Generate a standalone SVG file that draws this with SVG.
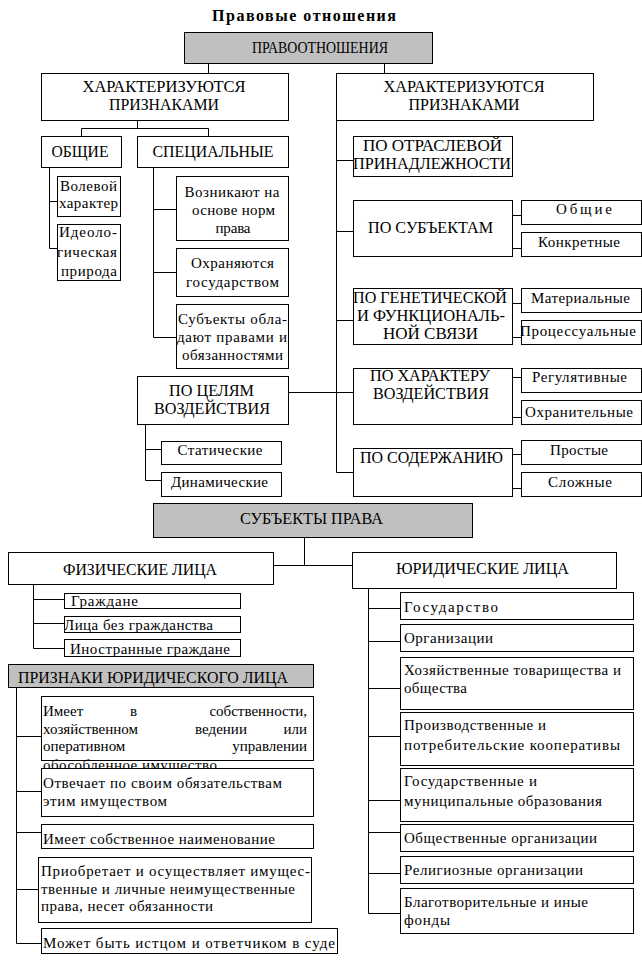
<svg xmlns="http://www.w3.org/2000/svg" width="642" height="969" viewBox="0 0 642 969" font-family="'Liberation Serif', 'Times New Roman', serif">
<style>
.b{fill:#fff;stroke:#000;stroke-width:1}
.g{fill:#c0c0c0;stroke:#000;stroke-width:1}
text{font-family:"Liberation Serif","Times New Roman",serif;font-size:15px;fill:#000}
.h{font-size:17px}
.c{text-anchor:middle}
.e{text-anchor:end}
.ttl{font-size:16px;font-weight:bold}
.ln{stroke:#000;stroke-width:1;fill:none}
</style>
<rect width="642" height="969" fill="#fff"/>
<text class="ttl" x="212" y="21" textLength="184" lengthAdjust="spacing">Правовые отношения</text>
<g id="connectors">
<path class="ln" d="M208.5 63V73M384.5 63V73
M137.5 120V128.5M81.5 128.5H208.5M81.5 128.5V136M208.5 128.5V136
M49.5 167V248.5M49.5 201.5H57M49.5 248.5H57
M153.5 167V337.5M153.5 209.5H176M153.5 272.5H176M153.5 337.5H176
M288 392.5H353
M145.5 424V480.5M145.5 449.5H161M145.5 480.5H161
M336.5 120V472.5M336.5 160.5H353M336.5 231.5H353M336.5 320.5H353M336.5 472.5H353
M512 215.5H521M512 248.5H521M512 303.5H521M512 337.5H521M512 377.5H521M512 417.5H521M512 454.5H521M512 488.5H521
M304.5 537V565.5M273 565.5H352
M33.5 584V648.5M33.5 599.5H64M33.5 623.5H64M33.5 648.5H64
M16.5 687V943.5M16.5 736.5H41M16.5 791.5H41M16.5 832.5H41M16.5 889.5H38M16.5 943.5H41
M368.5 588V913.5M368.5 608.5H400M368.5 641.5H400M368.5 688.5H400M368.5 736.5H400M368.5 800.5H400M368.5 832.5H400M368.5 873.5H400M368.5 913.5H400"/>
</g>
<g id="pravootnosheniya"><rect class="g" x="184.5" y="32.5" width="248" height="31"/><text class="h c" x="320" y="53" textLength="136" lengthAdjust="spacingAndGlyphs">ПРАВООТНОШЕНИЯ</text></g>
<g id="harakt-left"><rect class="b" x="41.5" y="73.5" width="247" height="47"/><text class="h c" x="164" y="92" textLength="163" lengthAdjust="spacingAndGlyphs">ХАРАКТЕРИЗУЮТСЯ</text><text class="h c" x="164" y="110" textLength="110" lengthAdjust="spacingAndGlyphs">ПРИЗНАКАМИ</text></g>
<g id="harakt-right"><rect class="b" x="336.5" y="73.5" width="257" height="47"/><text class="h c" x="464" y="92" textLength="161" lengthAdjust="spacingAndGlyphs">ХАРАКТЕРИЗУЮТСЯ</text><text class="h c" x="464" y="110" textLength="111" lengthAdjust="spacingAndGlyphs">ПРИЗНАКАМИ</text></g>
<g id="obshchie"><rect class="b" x="41.5" y="136.5" width="80" height="31"/><text class="h c" x="80" y="157" textLength="57" lengthAdjust="spacingAndGlyphs">ОБЩИЕ</text></g>
<g id="specialnye"><rect class="b" x="137.5" y="136.5" width="151" height="31"/><text class="h c" x="213" y="157" textLength="121" lengthAdjust="spacingAndGlyphs">СПЕЦИАЛЬНЫЕ</text></g>
<g id="volevoy"><rect class="b" x="57.5" y="176.5" width="63" height="40"/><text class="c" x="88.5" y="191" textLength="57" lengthAdjust="spacing">Волевой</text><text class="c" x="88.5" y="208" textLength="59" lengthAdjust="spacing">характер</text></g>
<g id="ideolog"><rect class="b" x="57.5" y="224.5" width="63" height="56"/><text class="c" x="88" y="237" textLength="58" lengthAdjust="spacing">Идеоло-</text><text class="c" x="87" y="257" textLength="60" lengthAdjust="spacing">гическая</text><text class="c" x="89" y="276" textLength="56" lengthAdjust="spacing">природа</text></g>
<g id="voznikayut"><rect class="b" x="176.5" y="176.5" width="112" height="64"/><text class="c" x="232" y="197" textLength="95" lengthAdjust="spacing">Возникают на</text><text class="c" x="233.5" y="215" textLength="83" lengthAdjust="spacing">основе норм</text><text class="c" x="233" y="233" textLength="35" lengthAdjust="spacing">права</text></g>
<g id="ohranyayutsya"><rect class="b" x="176.5" y="248.5" width="112" height="48"/><text class="c" x="232.5" y="268" textLength="83" lengthAdjust="spacing">Охраняются</text><text class="c" x="232.5" y="287" textLength="93" lengthAdjust="spacing">государством</text></g>
<g id="subekty-oblad"><rect class="b" x="176.5" y="304.5" width="112" height="64"/><text class="c" x="232.5" y="324" textLength="109" lengthAdjust="spacing">Субъекты обла-</text><text class="c" x="232" y="342" textLength="110" lengthAdjust="spacing">дают правами и</text><text class="c" x="232.5" y="360" textLength="101" lengthAdjust="spacing">обязанностями</text></g>
<g id="po-celyam"><rect class="b" x="137.5" y="376.5" width="151" height="48"/><text class="h c" x="211.5" y="396" textLength="85" lengthAdjust="spacingAndGlyphs">ПО ЦЕЛЯМ</text><text class="h c" x="212" y="414" textLength="116" lengthAdjust="spacingAndGlyphs">ВОЗДЕЙСТВИЯ</text></g>
<g id="staticheskie"><rect class="b" x="161.5" y="441.5" width="120" height="23"/><text class="c" x="220" y="455" textLength="85" lengthAdjust="spacing">Статические</text></g>
<g id="dinamicheskie"><rect class="b" x="161.5" y="472.5" width="120" height="24"/><text class="c" x="219.5" y="487" textLength="97" lengthAdjust="spacing">Динамические</text></g>
<g id="po-otraslevoy"><rect class="b" x="353.5" y="136.5" width="159" height="40"/><text class="h c" x="432.5" y="151" textLength="139" lengthAdjust="spacingAndGlyphs">ПО ОТРАСЛЕВОЙ</text><text class="h c" x="432" y="169" textLength="158" lengthAdjust="spacingAndGlyphs">ПРИНАДЛЕЖНОСТИ</text></g>
<g id="po-subektam"><rect class="b" x="353.5" y="200.5" width="159" height="56"/><text class="h c" x="430.5" y="233" textLength="125" lengthAdjust="spacingAndGlyphs">ПО СУБЪЕКТАМ</text></g>
<g id="obshchie2"><rect class="b" x="521.5" y="200.5" width="120" height="24"/><text class="c" x="584" y="214" textLength="56" lengthAdjust="spacing">Общие</text></g>
<g id="konkretnye"><rect class="b" x="521.5" y="232.5" width="120" height="24"/><text class="c" x="579" y="247" textLength="82" lengthAdjust="spacing">Конкретные</text></g>
<g id="po-geneticheskoy"><rect class="b" x="353.5" y="288.5" width="159" height="56"/><text class="h c" x="430" y="303" textLength="154" lengthAdjust="spacingAndGlyphs">ПО ГЕНЕТИЧЕСКОЙ</text><text class="h c" x="431" y="321" textLength="148" lengthAdjust="spacingAndGlyphs">И ФУНКЦИОНАЛЬ-</text><text class="h c" x="430.5" y="339" textLength="95" lengthAdjust="spacingAndGlyphs">НОЙ СВЯЗИ</text></g>
<g id="materialnye"><rect class="b" x="521.5" y="288.5" width="120" height="24"/><text class="c" x="580.5" y="303" textLength="99" lengthAdjust="spacing">Материальные</text></g>
<g id="processualnye"><rect class="b" x="521.5" y="320.5" width="120" height="24"/><text class="c" x="578" y="336" textLength="116" lengthAdjust="spacing">Процессуальные</text></g>
<g id="po-harakteru"><rect class="b" x="353.5" y="368.5" width="159" height="56"/><text class="h c" x="430" y="381" textLength="120" lengthAdjust="spacingAndGlyphs">ПО ХАРАКТЕРУ</text><text class="h c" x="431" y="399" textLength="116" lengthAdjust="spacingAndGlyphs">ВОЗДЕЙСТВИЯ</text></g>
<g id="regulyativnye"><rect class="b" x="521.5" y="368.5" width="120" height="24"/><text class="c" x="579.5" y="382" textLength="95" lengthAdjust="spacing">Регулятивные</text></g>
<g id="ohranitelnye"><rect class="b" x="521.5" y="400.5" width="120" height="24"/><text class="c" x="579" y="417" textLength="108" lengthAdjust="spacing">Охранительные</text></g>
<g id="po-soderzhaniyu"><rect class="b" x="353.5" y="448.5" width="159" height="48"/><text class="h c" x="431.5" y="463" textLength="143" lengthAdjust="spacingAndGlyphs">ПО СОДЕРЖАНИЮ</text></g>
<g id="prostye"><rect class="b" x="521.5" y="440.5" width="120" height="24"/><text class="c" x="579" y="455" textLength="58" lengthAdjust="spacing">Простые</text></g>
<g id="slozhnye"><rect class="b" x="521.5" y="472.5" width="120" height="24"/><text class="c" x="580" y="487" textLength="64" lengthAdjust="spacing">Сложные</text></g>
<g id="subekty-prava"><rect class="g" x="153.5" y="503.5" width="319" height="34"/><text class="h c" x="311.5" y="524" textLength="143" lengthAdjust="spacingAndGlyphs">СУБЪЕКТЫ ПРАВА</text></g>
<g id="fizicheskie"><rect class="b" x="8.5" y="552.5" width="265" height="32"/><text class="h c" x="140" y="575" textLength="154" lengthAdjust="spacingAndGlyphs">ФИЗИЧЕСКИЕ ЛИЦА</text></g>
<g id="yuridicheskie"><rect class="b" x="352.5" y="552.5" width="264" height="36"/><text class="h c" x="482.5" y="574" textLength="173" lengthAdjust="spacingAndGlyphs">ЮРИДИЧЕСКИЕ ЛИЦА</text></g>
<g id="grazhdane"><rect class="b" x="64.5" y="593.5" width="176" height="15"/><text x="71" y="606" textLength="67" lengthAdjust="spacing">Граждане</text></g>
<g id="bez-grazhd"><rect class="b" x="64.5" y="616.5" width="176" height="16"/><text x="64" y="630" textLength="149" lengthAdjust="spacing">Лица без гражданства</text></g>
<g id="inostrannye"><rect class="b" x="64.5" y="639.5" width="176" height="17"/><text x="70" y="654" textLength="160" lengthAdjust="spacing">Иностранные граждане</text></g>
<g id="priznaki"><rect class="g" x="8.5" y="664.5" width="305" height="23"/><text class="h" x="18" y="683" textLength="270" lengthAdjust="spacingAndGlyphs">ПРИЗНАКИ ЮРИДИЧЕСКОГО ЛИЦА</text></g>
<g id="imeet-sobstv"><rect class="b" x="41.5" y="696.5" width="272" height="64"/>
<text x="43" y="716">Имеет</text><text x="130" y="716">в</text><text class="e" x="307" y="716">собственности,</text>
<text x="43" y="734">хозяйственном</text><text class="c" x="221" y="734">ведении</text><text class="e" x="307" y="734">или</text>
<text x="43" y="751">оперативном</text><text class="e" x="307" y="751">управлении</text>
<text x="43" y="770" textLength="174" lengthAdjust="spacing">обособленное имущество</text></g>
<g id="otvechaet"><rect class="b" x="41.5" y="768.5" width="272" height="48"/><text x="43" y="788" textLength="239" lengthAdjust="spacing">Отвечает по своим обязательствам</text><text x="43" y="806" textLength="124" lengthAdjust="spacing">этим имуществом</text></g>
<g id="naimenovanie"><rect class="b" x="41.5" y="824.5" width="272" height="24"/><text x="43" y="844" textLength="232" lengthAdjust="spacing">Имеет собственное наименование</text></g>
<g id="priobretaet"><rect class="b" x="38.5" y="857.5" width="273" height="65"/><text x="41" y="876" textLength="269" lengthAdjust="spacing">Приобретает и осуществляет имущес-</text><text x="41" y="894" textLength="254" lengthAdjust="spacing">твенные и личные неимущественные</text><text x="41" y="911" textLength="172" lengthAdjust="spacing">права, несет обязанности</text></g>
<g id="istcom"><rect class="b" x="41.5" y="928.5" width="296" height="25"/><text x="43" y="948" textLength="292" lengthAdjust="spacing">Может быть истцом и ответчиком в суде</text></g>
<g id="gosudarstvo"><rect class="b" x="400.5" y="592.5" width="233" height="27"/><text x="404" y="612" textLength="94" lengthAdjust="spacing">Государство</text></g>
<g id="organizacii"><rect class="b" x="400.5" y="624.5" width="233" height="27"/><text x="404" y="643" textLength="89" lengthAdjust="spacing">Организации</text></g>
<g id="hoz"><rect class="b" x="400.5" y="657.5" width="233" height="52"/><text x="404" y="675" textLength="217" lengthAdjust="spacing">Хозяйственные товарищества и</text><text x="404" y="693" textLength="63" lengthAdjust="spacing">общества</text></g>
<g id="proizv"><rect class="b" x="400.5" y="712.5" width="233" height="53"/><text x="404" y="730" textLength="142" lengthAdjust="spacing">Производственные и</text><text x="404" y="750" textLength="216" lengthAdjust="spacing">потребительские кооперативы</text></g>
<g id="gos-munic"><rect class="b" x="400.5" y="768.5" width="233" height="53"/><text x="404" y="786" textLength="133" lengthAdjust="spacing">Государственные и</text><text x="404" y="806" textLength="198" lengthAdjust="spacing">муниципальные образования</text></g>
<g id="obshchestv"><rect class="b" x="400.5" y="824.5" width="233" height="27"/><text x="404" y="843" textLength="193" lengthAdjust="spacing">Общественные организации</text></g>
<g id="religioznye"><rect class="b" x="400.5" y="856.5" width="233" height="27"/><text x="404" y="875" textLength="179" lengthAdjust="spacing">Религиозные организации</text></g>
<g id="blagotvor"><rect class="b" x="400.5" y="888.5" width="233" height="45"/><text x="404" y="907" textLength="184" lengthAdjust="spacing">Благотворительные и иные</text><text x="404" y="925" textLength="46" lengthAdjust="spacing">фонды</text></g>
</svg>
